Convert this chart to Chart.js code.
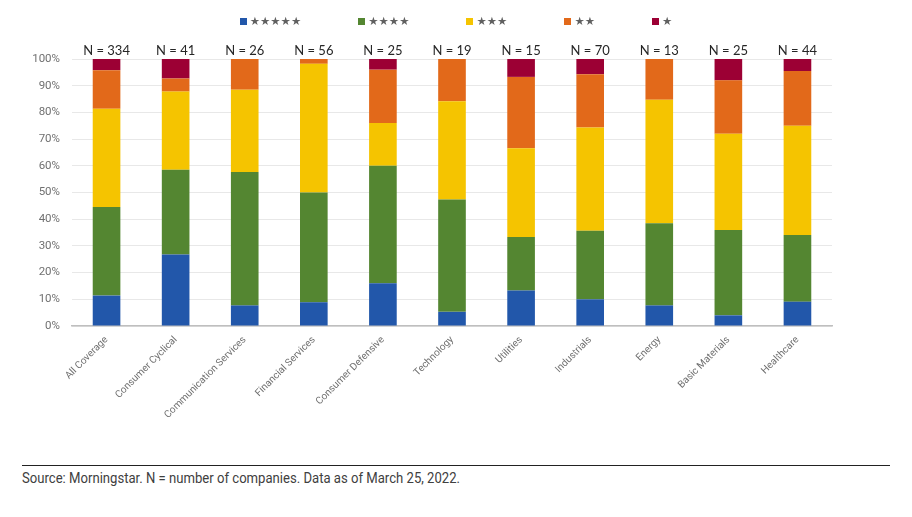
<!DOCTYPE html>
<html>
<head>
<meta charset="utf-8">
<script src="https://cdn.jsdelivr.net/npm/chart.js@4"></script>
<style>
  html, body { margin: 0; padding: 0; background: #fff; }
  #wrap { position: relative; width: 912px; height: 517px; }
  #chartBox { position: absolute; left: 0; top: 0; width: 912px; height: 455px; }
  #legend { position: absolute; top: 14px; left: 0; width: 912px; display: flex; justify-content: center; gap: 57px;
            font-family: "DejaVu Sans", sans-serif; font-size: 11.5px; color: #606060; line-height: 14px; }
  #legend .item { display: flex; align-items: center; white-space: nowrap; }
  #legend .sw { display: inline-block; width: 7px; height: 7px; margin-right: 3px; }
  #rule { position: absolute; left: 22px; top: 465px; width: 868px; height: 0; border-top: 1px solid #222; }
  #source { position: absolute; left: 22px; top: 470px; font-family: Roboto, sans-serif;
            font-size: 14px; color: #404040; white-space: nowrap; transform-origin: 0 0; }
</style>
</head>
<body>
<div id="wrap">
  <div id="chartBox"><canvas id="c"></canvas></div>
  <div id="legend"></div>
  <div id="rule"></div>
  <div id="source">Source: Morningstar. N = number of companies. Data as of March 25, 2022.</div>
</div>
<script>
const categories = ['All Coverage','Consumer Cyclical','Communication Services','Financial Services','Consumer Defensive','Technology','Utilities','Industrials','Energy','Basic Materials','Healthcare'];
const nCounts = [334, 41, 26, 56, 25, 19, 15, 70, 13, 25, 44];
const seriesNames = ['★★★★★', '★★★★', '★★★', '★★', '★'];
const fiveStar  = [11.4, 26.8,  7.7,  8.9, 16.0,  5.3, 13.3, 10.0,  7.7,  4.0,  9.1];
const fourStar  = [33.2, 31.7, 50.0, 41.1, 44.0, 42.1, 20.0, 25.7, 30.8, 32.0, 25.0];
const threeStar = [36.8, 29.3, 30.8, 48.2, 16.0, 36.8, 33.3, 38.6, 46.2, 36.0, 40.9];
const twoStar   = [14.4,  4.9, 11.5,  1.8, 20.0, 15.8, 26.7, 20.0, 15.4, 20.0, 20.5];
const oneStar   = [ 4.2,  7.3,  0.0,  0.0,  4.0,  0.0,  6.7,  5.7,  0.0,  8.0,  4.5];
const yTicks = [0, 10, 20, 30, 40, 50, 60, 70, 80, 90, 100];
const colors = ['#2257AA', '#548631', '#F5C400', '#E2691A', '#9C0034'];

const seriesData = [fiveStar, fourStar, threeStar, twoStar, oneStar];

// HTML legend
const lg = document.getElementById('legend');
seriesNames.forEach((name, i) => {
  const it = document.createElement('div'); it.className = 'item';
  const sw = document.createElement('span'); sw.className = 'sw'; sw.style.background = colors[i];
  const tx = document.createElement('span'); tx.textContent = name;
  it.appendChild(sw); it.appendChild(tx); lg.appendChild(it);
});

// condense footer text to the reference's width
const src = document.getElementById('source');
src.style.transform = 'scaleX(' + (438 / src.getBoundingClientRect().width) + ')';

const nLabelPlugin = {
  id: 'nLabels',
  afterDatasetsDraw(chart) {
    const ctx = chart.ctx;
    const xs = chart.scales.x, ys = chart.scales.y;
    ctx.save();
    ctx.font = '13px Lato, "Open Sans", sans-serif';
    ctx.fillStyle = '#262626';
    ctx.textAlign = 'center';
    ctx.textBaseline = 'bottom';
    nCounts.forEach((n, i) => {
      ctx.fillText('N = ' + n, xs.getPixelForValue(i), ys.getPixelForValue(100) - 2);
    });
    ctx.restore();
  }
};

new Chart(document.getElementById('c'), {
  type: 'bar',
  data: {
    labels: categories,
    datasets: seriesData.map((d, i) => ({
      label: seriesNames[i],
      data: d,
      backgroundColor: colors[i],
      borderWidth: 0,
      barPercentage: 0.4,
      categoryPercentage: 1.0
    }))
  },
  options: {
    responsive: true,
    maintainAspectRatio: false,
    animation: false,
    devicePixelRatio: 1,
    layout: { padding: { top: 59, right: 80, left: 0, bottom: 0 } },
    plugins: { legend: { display: false }, tooltip: { enabled: false } },
    scales: {
      x: {
        stacked: true,
        grid: { display: false, drawTicks: false },
        border: { display: true, color: '#BFBFBF', width: 1.5 },
        ticks: {
          minRotation: 45, maxRotation: 45, autoSkip: false, padding: 8,
          color: '#707070',
          font: { family: 'Roboto, sans-serif', size: 10 }
        },
        afterFit(scale) { scale.height = 129; }
      },
      y: {
        stacked: true,
        min: 0, max: 100,
        afterBuildTicks(scale) { scale.ticks = yTicks.map(v => ({ value: v })); },
        grid: { color: '#E8E8E8', drawTicks: false },
        border: { display: false },
        ticks: {
          padding: 12,
          color: '#707070',
          font: { family: 'Roboto, sans-serif', size: 11.5 },
          callback: v => v + '%'
        },
        afterFit(scale) { scale.width = 72; }
      }
    }
  },
  plugins: [nLabelPlugin]
});
</script>
</body>
</html>
